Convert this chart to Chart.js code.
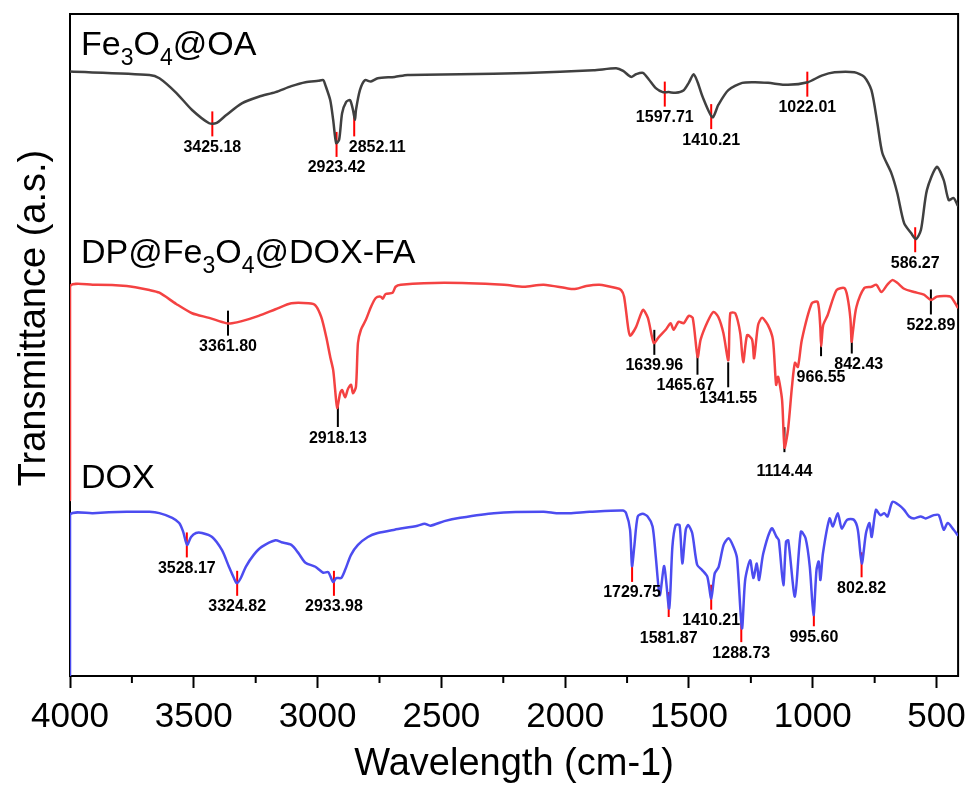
<!DOCTYPE html>
<html>
<head>
<meta charset="utf-8">
<title>FTIR spectra</title>
<script src="https://cdn.jsdelivr.net/npm/chart.js@4.4.1/dist/chart.umd.min.js"></script>
<style>
    body { margin: 0; background: #fff; }
    canvas { display: block; }
</style>
</head>
<body>
<canvas id="ftirChart" width="974" height="787"></canvas>
<script>
// wavenumbers (cm-1) and stacked transmittance (a.s.)
const wnFe = [4000, 3679, 3639, 3571, 3507, 3438, 3410, 3370, 3306, 3238, 3170, 3106, 3049, 2997, 2977, 2969, 2949, 2937, 2925, 2913, 2901, 2885, 2869, 2857, 2849, 2845, 2829, 2809, 2785, 2757, 2689, 2636, 2424, 2155, 1886, 1794, 1766, 1734, 1714, 1686, 1662, 1634, 1606, 1582, 1554, 1521, 1501, 1481, 1465, 1445, 1405, 1381, 1341, 1285, 1233, 1181, 1100, 1020, 964, 912, 832, 792, 763, 739, 719, 683, 659, 631, 603, 583, 563, 539, 499, 471, 451, 431, 415];
const tFe = [91.3, 90.8, 90.3, 88.1, 85.5, 83.5, 83.5, 84.7, 86.5, 87.5, 88.2, 89.1, 89.7, 89.9, 90.0, 89.3, 87.0, 84.0, 80.5, 81.0, 85.0, 86.7, 87.0, 85.5, 84.0, 85.5, 88.5, 90.0, 89.8, 90.3, 90.5, 90.8, 90.9, 91.1, 91.5, 91.8, 91.4, 90.5, 90.9, 91.1, 90.1, 88.8, 88.2, 88.2, 88.1, 88.5, 89.6, 90.9, 89.7, 87.5, 84.4, 86.3, 88.5, 89.6, 89.7, 89.6, 89.3, 89.7, 90.7, 91.2, 91.2, 90.5, 88.5, 83.5, 79.0, 76.0, 73.0, 68.4, 66.9, 66.0, 67.4, 73.4, 76.9, 74.9, 71.9, 72.2, 71.1];

const wnDp = [4000, 4000, 3908, 3771, 3679, 3639, 3571, 3507, 3438, 3370, 3346, 3306, 3238, 3170, 3106, 3037, 3009, 2985, 2965, 2949, 2937, 2929, 2921, 2909, 2901, 2889, 2877, 2865, 2857, 2845, 2837, 2825, 2805, 2785, 2765, 2745, 2737, 2725, 2697, 2685, 2664, 2488, 2247, 2167, 2087, 1983, 1955, 1915, 1862, 1794, 1774, 1762, 1746, 1738, 1714, 1686, 1666, 1642, 1622, 1594, 1574, 1562, 1542, 1521, 1501, 1485, 1465, 1453, 1425, 1401, 1381, 1361, 1341, 1333, 1313, 1293, 1281, 1265, 1245, 1237, 1221, 1205, 1181, 1161, 1148, 1140, 1124, 1114, 1100, 1084, 1072, 1060, 1044, 1004, 980, 970, 966, 958, 940, 904, 872, 860, 848, 843, 838, 824, 792, 763, 743, 723, 699, 679, 659, 631, 591, 551, 523, 499, 471, 443, 415];
const tDp = [26.6, 58.8, 59.1, 58.9, 58.3, 57.9, 56.2, 54.8, 54.1, 53.3, 53.3, 53.6, 54.4, 55.4, 56.3, 56.3, 56.0, 54.2, 51.2, 48.2, 46.2, 43.2, 40.5, 42.7, 43.2, 42.1, 43.4, 44.0, 42.7, 43.7, 50.3, 52.3, 53.8, 55.7, 57.1, 57.3, 57.0, 57.7, 57.9, 58.8, 59.1, 59.4, 59.1, 58.8, 59.1, 58.5, 58.5, 58.9, 59.1, 58.6, 58.3, 57.3, 52.7, 51.4, 52.7, 55.3, 54.1, 50.3, 51.2, 52.3, 53.3, 52.3, 53.5, 53.3, 54.4, 54.1, 48.2, 50.8, 53.5, 55.0, 54.2, 51.8, 47.7, 54.8, 54.8, 51.8, 47.4, 51.5, 50.8, 48.0, 53.0, 54.1, 53.0, 50.8, 44.0, 45.2, 41.7, 34.5, 37.2, 43.7, 47.3, 46.7, 50.8, 56.3, 56.5, 53.0, 49.8, 53.0, 54.5, 58.3, 58.6, 57.3, 54.0, 50.5, 52.0, 55.7, 58.6, 58.8, 59.1, 58.0, 59.1, 59.8, 59.4, 58.5, 58.0, 57.6, 56.8, 57.3, 57.4, 57.3, 55.7];

const wnDox = [4000, 4000, 3908, 3771, 3679, 3639, 3587, 3559, 3543, 3527, 3511, 3491, 3467, 3426, 3386, 3358, 3338, 3326, 3310, 3290, 3258, 3226, 3170, 3146, 3106, 3078, 3049, 3009, 2977, 2957, 2937, 2925, 2905, 2889, 2865, 2837, 2797, 2757, 2689, 2596, 2568, 2544, 2488, 2424, 2288, 2087, 2035, 1983, 1901, 1767, 1754, 1738, 1730, 1721, 1707, 1687, 1667, 1647, 1634, 1618, 1600, 1580, 1567, 1554, 1538, 1527, 1513, 1503, 1487, 1467, 1447, 1426, 1410, 1396, 1380, 1360, 1340, 1320, 1306, 1286, 1273, 1253, 1240, 1226, 1217, 1200, 1166, 1146, 1137, 1119, 1108, 1099, 1072, 1048, 1029, 1012, 997, 985, 976, 969, 959, 932, 919, 899, 883, 861, 834, 818, 802, 785, 771, 762, 745, 727, 711, 698, 678, 651, 631, 611, 591, 564, 544, 511, 491, 471, 455, 431, 415];
const tDox = [0, 24.3, 24.6, 24.8, 24.8, 24.6, 23.9, 23.1, 21.8, 19.8, 21.0, 21.6, 21.6, 21.0, 19.0, 16.5, 14.8, 14.0, 14.8, 16.5, 18.3, 19.5, 20.5, 20.2, 19.8, 18.6, 17.1, 16.5, 15.6, 15.7, 14.2, 14.8, 14.8, 16.0, 18.3, 19.8, 21.0, 21.6, 22.1, 22.7, 23.0, 22.7, 23.4, 23.9, 24.6, 24.8, 24.6, 24.6, 24.8, 25.0, 24.6, 22.1, 16.6, 19.5, 24.1, 24.5, 24.1, 22.6, 18.0, 12.2, 16.6, 10.2, 19.5, 22.8, 22.8, 17.0, 22.1, 22.8, 21.6, 16.8, 16.0, 15.0, 11.7, 15.5, 16.5, 19.8, 20.8, 19.5, 17.8, 7.2, 14.5, 17.5, 14.8, 17.0, 14.5, 18.5, 22.3, 21.0, 20.5, 13.7, 20.3, 20.5, 12.0, 21.8, 20.8, 16.5, 9.2, 16.0, 17.3, 14.5, 18.5, 23.8, 22.6, 24.6, 22.3, 23.6, 23.6, 22.1, 17.0, 21.6, 23.1, 21.0, 25.1, 24.3, 24.6, 24.1, 26.3, 25.8, 25.1, 24.1, 23.8, 24.1, 23.8, 24.3, 24.3, 22.1, 23.1, 22.1, 21.3];

// marked peaks: wavenumber and where the marker sits
const peaksFe = [3425.18, 2923.42, 2852.11, 1597.71, 1410.21, 1022.01, 586.27];
const peakTFe = [83.4, 80.3, 83.4, 87.9, 84.5, 89.4, 65.9];
const peaksDp = [3361.80, 2918.13, 1639.96, 1465.67, 1341.55, 1114.44, 966.55, 842.43, 522.89];
const peakTDp = [53.3, 39.5, 50.4, 47.4, 45.5, 35.7, 50.2, 50.6, 56.5];
const peaksDox = [3528.17, 3324.82, 2933.98, 1729.75, 1581.87, 1410.21, 1288.73, 995.60, 802.82];
const peakTDox = [19.8, 14.0, 14.0, 16.1, 10.8, 11.9, 7.0, 9.4, 16.8];

const xTicks = [4000, 3500, 3000, 2500, 2000, 1500, 1000, 500];
const xMinorTicks = [3750, 3250, 2750, 2250, 1750, 1250, 750];

const FONT = "'Liberation Sans', Arial, sans-serif";
const gray = '#404040';
const red = 'rgb(244, 66, 66)';
const blue = 'rgb(76, 76, 240)';

function toPoints(xs, ys) {
    return xs.map((x, i) => ({x: x, y: ys[i]}));
}

// label nudges (px) where the original moved a label off its marker
const labelNudge = {
    '2852.11': [23, 0],
    '842.43': [7, 0],
    '1465.67': [-12, 0],
    '966.55': [0, 10],
    '1114.44': [0, 8],
    '1581.87': [0, 10]
};

const peakSets = [
    {wn: peaksFe, t: peakTFe, color: '#ff0000'},
    {wn: peaksDp, t: peakTDp, color: '#000000'},
    {wn: peaksDox, t: peakTDox, color: '#ff0000'}
];

// sample names with subscripts, baseline given on the y scale
const sampleNames = [
    {parts: [['Fe', 0], ['3', 1], ['O', 0], ['4', 1], ['@OA', 0]], y: 93.8},
    {parts: [['DP@Fe', 0], ['3', 1], ['O', 0], ['4', 1], ['@DOX-FA', 0]], y: 62.4},
    {parts: [['DOX', 0]], y: 28.4}
];

const framePlugin = {
    id: 'frame',
    beforeDatasetsDraw(chart) {
        const {ctx, chartArea: a, scales} = chart;
        ctx.save();
        ctx.strokeStyle = '#000';
        ctx.lineWidth = 2;
        ctx.strokeRect(a.left, a.top, a.right - a.left, a.bottom - a.top);

        // minor ticks on the bottom axis
        xMinorTicks.forEach(v => {
            const px = scales.x.getPixelForValue(v);
            ctx.beginPath();
            ctx.moveTo(px, a.bottom);
            ctx.lineTo(px, a.bottom + 7);
            ctx.stroke();
        });

        // peak markers, under the curves
        peakSets.forEach(set => {
            ctx.strokeStyle = set.color;
            ctx.lineWidth = 2;
            set.wn.forEach((w, i) => {
                const px = scales.x.getPixelForValue(w);
                const py = scales.y.getPixelForValue(set.t[i]);
                ctx.beginPath();
                ctx.moveTo(px, py - 12.5);
                ctx.lineTo(px, py + 12.5);
                ctx.stroke();
            });
        });
        ctx.restore();
    },
    afterDatasetsDraw(chart) {
        const {ctx, chartArea: a, scales} = chart;
        ctx.save();
        ctx.fillStyle = '#000';

        // peak labels
        ctx.font = 'bold 16px ' + FONT;
        ctx.textAlign = 'center';
        ctx.textBaseline = 'alphabetic';
        peakSets.forEach(set => {
            set.wn.forEach((w, i) => {
                const text = w.toFixed(2);
                const nudge = labelNudge[text] || [0, 0];
                const px = scales.x.getPixelForValue(w) + nudge[0];
                const py = scales.y.getPixelForValue(set.t[i]) + 12.5 + 15.5 + nudge[1];
                ctx.fillText(text, px, py);
            });
        });

        // sample names
        ctx.textAlign = 'left';
        sampleNames.forEach(name => {
            let x = a.left + 11;
            const base = scales.y.getPixelForValue(name.y);
            name.parts.forEach(([text, sub]) => {
                ctx.font = (sub ? '23px ' : '34px ') + FONT;
                ctx.fillText(text, x, base + (sub ? 10 : 0));
                x += ctx.measureText(text).width;
            });
        });

        // y axis title
        ctx.font = '38px ' + FONT;
        ctx.textAlign = 'center';
        ctx.textBaseline = 'middle';
        ctx.translate(a.left - 35, a.top + 304);
        ctx.rotate(-Math.PI / 2);
        ctx.fillText('Transmittance (a.s.)', 0, 0);
        ctx.restore();
    }
};

window.onload = () => {
    const ctx = document.getElementById('ftirChart').getContext('2d');

    new Chart(ctx, {
        type: 'line',
        data: {
            datasets: [
                {
                    label: 'DOX',
                    data: toPoints(wnDox, tDox),
                    borderColor: blue,
                    borderWidth: 2.5,
                    order: 0
                },
                {
                    label: 'DP@Fe3O4@DOX-FA',
                    data: toPoints(wnDp, tDp),
                    borderColor: red,
                    borderWidth: 2.5,
                    order: 1
                },
                {
                    label: 'Fe3O4@OA',
                    data: toPoints(wnFe, tFe),
                    borderColor: gray,
                    borderWidth: 2.5,
                    order: 2
                }
            ]
        },
        options: {
            responsive: false,
            animation: false,
            devicePixelRatio: 1,
            elements: {
                point: {radius: 0},
                line: {tension: 0.25, fill: false, borderJoinStyle: 'round', borderCapStyle: 'round'}
            },
            layout: {
                padding: {top: 14, right: 10, left: 0, bottom: 0}
            },
            plugins: {
                legend: {display: false},
                tooltip: {enabled: false}
            },
            scales: {
                x: {
                    type: 'linear',
                    reverse: true,
                    min: 413,
                    max: 4000,
                    afterBuildTicks: scale => {
                        scale.ticks = xTicks.map(v => ({value: v}));
                    },
                    afterFit: scale => {
                        scale.height = 111;
                    },
                    ticks: {
                        font: {family: FONT, size: 35},
                        color: '#000',
                        padding: 8,
                        maxRotation: 0,
                        autoSkip: false,
                        callback: value => String(value)
                    },
                    grid: {
                        drawOnChartArea: false,
                        drawTicks: true,
                        tickLength: 12,
                        tickWidth: 2,
                        tickColor: '#000'
                    },
                    border: {color: '#000', width: 2},
                    title: {
                        display: true,
                        text: 'Wavelength (cm-1)',
                        font: {family: FONT, size: 38},
                        color: '#000',
                        padding: {top: 0, bottom: 0}
                    }
                },
                y: {
                    min: 0,
                    max: 100,
                    afterFit: scale => {
                        scale.width = 70;
                    },
                    ticks: {display: false},
                    grid: {display: false},
                    border: {display: false}
                }
            }
        },
        plugins: [framePlugin]
    });
};
</script>
</body>
</html>
